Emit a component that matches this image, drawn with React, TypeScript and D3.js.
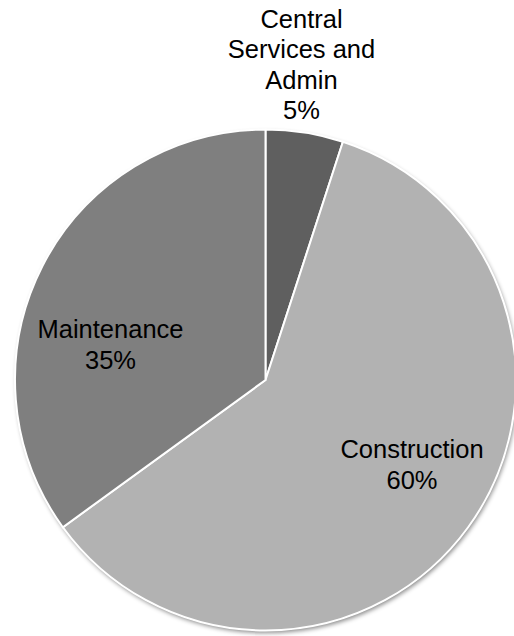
import React from "react";
import * as d3 from "d3";

const categories = ["Central Services and Admin", "Construction", "Maintenance"];
const values = [5, 60, 35];
const labelLines = [
  ["Central", "Services and", "Admin", "5%"],
  ["Construction", "60%"],
  ["Maintenance", "35%"],
];
const colors = ["#5f5f5f", "#b2b2b2", "#7f7f7f"];
// label anchors (center x, first baseline y)
const labelAnchors = [
  [301.5, 27.5],
  [412, 458],
  [110.5, 338.3],
];

const W = 514;
const H = 636;
const cx = 265.5;
const cy = 380;
const R = 250.5;

export default function App() {
  const pie = d3.pie<number>().sort(null).value((d) => d);
  const arcs = pie(values);
  const arc = d3.arc<d3.PieArcDatum<number>>().innerRadius(0).outerRadius(R);
  const lh = 30.5;
  return (
    <svg
      width={W}
      height={H}
      style={{ position: "absolute", left: 0, top: 0, background: "#fff" }}
    >
      <defs>
        <filter id="sh" x="-10%" y="-10%" width="120%" height="120%">
          <feDropShadow dx="1.5" dy="2.5" stdDeviation="2" floodColor="#000" floodOpacity="0.45" />
        </filter>
      </defs>
      <g transform={`translate(${cx},${cy})`}>
        <circle r={R} fill="#fff" filter="url(#sh)" />
        {arcs.map((a, i) => (
          <path key={categories[i]} d={arc(a) || ""} fill={colors[i]} stroke="#fff" strokeWidth={2} strokeLinejoin="miter" />
        ))}
      </g>
      {labelLines.map((lines, i) => (
        <text
          key={i}
          x={labelAnchors[i][0]}
          y={labelAnchors[i][1]}
          textAnchor="middle"
          fontFamily="'Liberation Sans', Arial, sans-serif"
          fontSize={25.5}
          fill="#000"
        >
          {lines.map((l, j) => (
            <tspan key={j} x={labelAnchors[i][0]} y={labelAnchors[i][1] + j * lh}>
              {l}
            </tspan>
          ))}
        </text>
      ))}
    </svg>
  );
}
